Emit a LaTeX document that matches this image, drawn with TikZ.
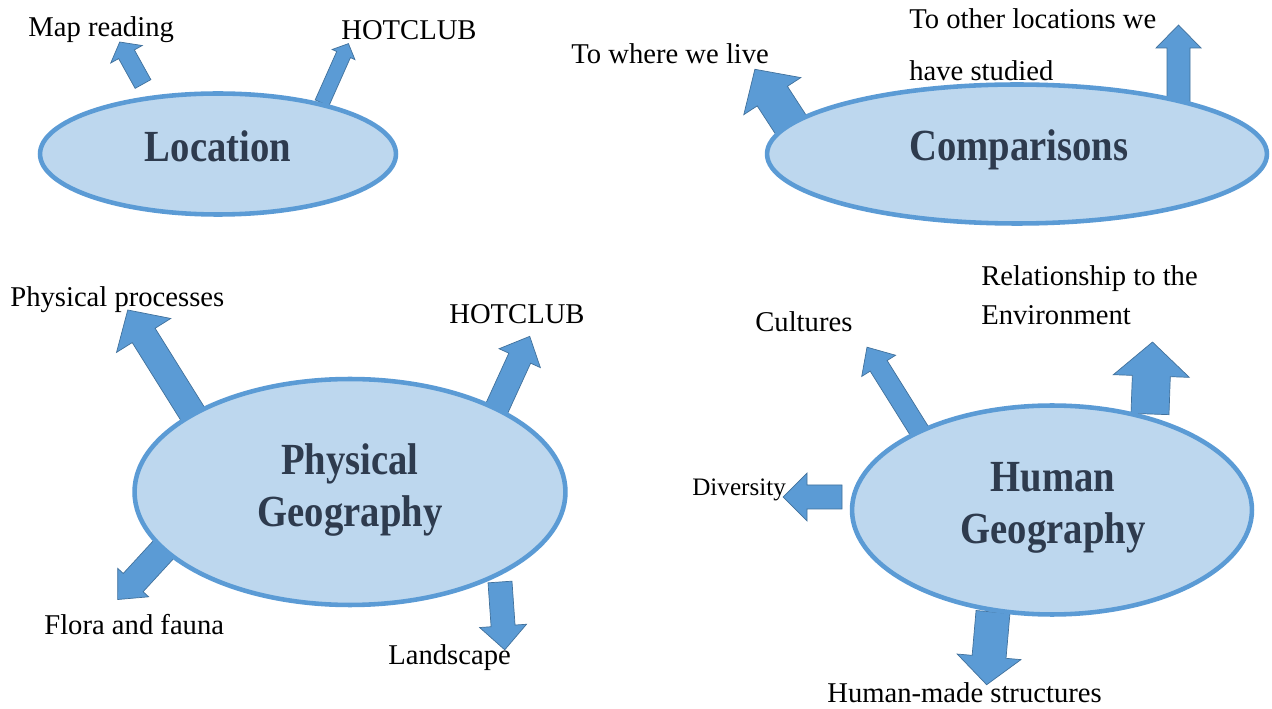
\documentclass[tikz,border=0pt]{standalone}
\usepackage{fontspec}
\setmainfont{Liberation Serif}
\usetikzlibrary{shapes.geometric}
\definecolor{bubblefill}{HTML}{BDD7EE}
\definecolor{bubbleline}{HTML}{5B9BD5}
\definecolor{arrowfill}{HTML}{5B9BD5}
\definecolor{arrowline}{HTML}{41719C}
\definecolor{titletext}{HTML}{2E3B4E}
\tikzset{
  bubble/.style={ellipse, draw=bubbleline, fill=bubblefill, line width=2.6pt, inner sep=0pt},
  blockarrow/.style={fill=arrowfill, draw=arrowline, line width=0.4pt, line join=miter},
  lbl/.style={font=\fontsize{16.3}{20}\selectfont, inner sep=0pt, anchor=west, align=left},
  ttl/.style={font=\fontsize{22}{29.5}\selectfont\bfseries, text=titletext, inner sep=0pt, align=center},
}
\newcommand{\tall}[1]{\scalebox{1}[1.15]{#1}}
% #1 base, #2 angle, #3 length, #4 shaft half width, #5 head half width, #6 head length
\newcommand{\blockarrow}[6]{%
  \begin{scope}[shift={(#1)},rotate=#2]
    \filldraw[blockarrow] (0,-#4) -- ({#3-#6},-#4) -- ({#3-#6},-#5) -- (#3,0)
      -- ({#3-#6},#5) -- ({#3-#6},#4) -- (0,#4) -- cycle;
  \end{scope}}
\begin{document}
\begin{tikzpicture}[x=0.02cm,y=-0.02cm]
\useasboundingbox[fill=white] (0,0) rectangle (1272,709);

% arrows (drawn first, ellipses cover their tails)
\blockarrow{143,84}{119}{48}{9}{18}{14}
\blockarrow{322,103}{66}{65}{7.5}{12.5}{12}
\blockarrow{793,128}{123}{70}{18}{34}{32}
\blockarrow{1178.5,106}{90}{81}{11.5}{22.5}{23}
\blockarrow{194,416}{122}{125}{13.5}{32}{30}
\blockarrow{496,410}{65.4}{81}{12}{22.7}{24}
\blockarrow{165,548}{227.4}{70}{13.5}{21}{23}
\blockarrow{500,582}{-86}{68}{12}{23.5}{24}
\blockarrow{920,432}{122}{100}{10}{20}{22}
\blockarrow{1150,414}{88}{72}{19}{38}{34}
\blockarrow{842,497}{180}{59}{12}{24}{24}
\blockarrow{993,612}{-95}{73}{17}{32}{28}

% ellipses
\node[bubble, minimum width=7.12cm, minimum height=2.42cm] (loc) at (218,154) {};
\node[bubble, minimum width=10.0cm, minimum height=2.78cm] (cmp) at (1017,154) {};
\node[bubble, minimum width=8.62cm, minimum height=4.52cm] (phy) at (350,492) {};
\node[bubble, minimum width=8.0cm, minimum height=4.18cm] (hum) at (1052,510) {};

% titles
\node[ttl] (loct) at (218,146) {\tall{Location}};
\node[ttl] (cmpt) at (1019,150) {\tall{Comparisons}};
\node[ttl] (phyt) at (350,490) {\tall{Physical}\\\tall{Geography}};
\node[ttl] (humt) at (1053,508) {\tall{Human}\\\tall{Geography}};

% labels
\node[lbl] (mapr) at (28,30) {Map reading};
\node[lbl] (hot1) at (341,30) {HOTCLUB};
\node[lbl] (where) at (571,54) {To where we live};
\node[lbl, font=\fontsize{16.3}{29.5}\selectfont] (other) at (909,45) {To other locations we\\have studied};
\node[lbl] (physp) at (10,300) {Physical processes};
\node[lbl] (hot2) at (449,314) {HOTCLUB};
\node[lbl] (flora) at (44,625) {Flora and fauna};
\node[lbl] (land) at (388,658) {Landscape};
\node[lbl] (cult) at (755,322) {Cultures};
\node[lbl, font=\fontsize{16.3}{22.1}\selectfont] (rel) at (981,295) {Relationship to the\\Environment};
\node[lbl, font=\fontsize{14.3}{18}\selectfont] (div) at (692,490) {Diversity};
\node[lbl] (hms) at (827,693) {Human-made structures};
\end{tikzpicture}
\end{document}
